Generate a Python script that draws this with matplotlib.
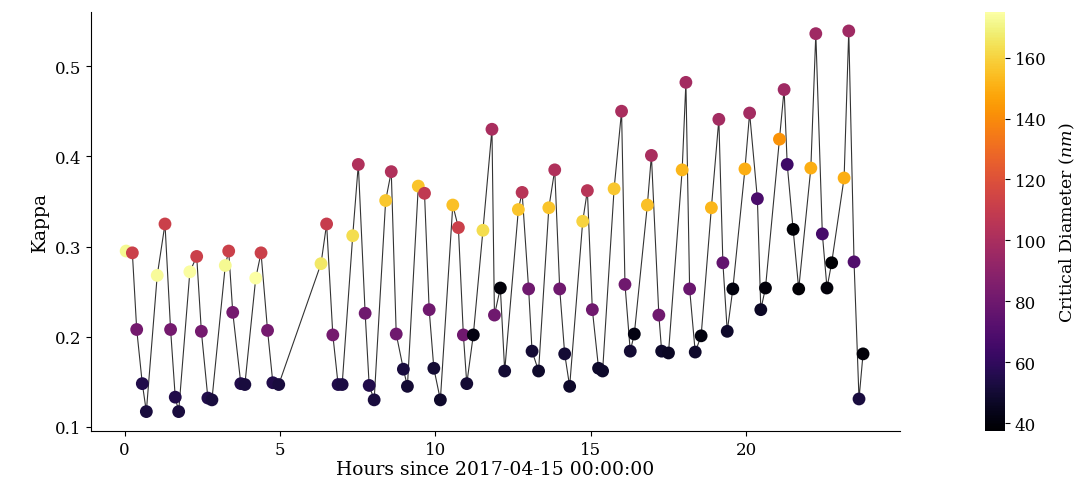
import numpy as np
import matplotlib
matplotlib.use('Agg')
import matplotlib.pyplot as plt

# hours since start, kappa, critical diameter (nm)
HOURS = [
    0.05, 0.25, 0.39, 0.57, 0.70,
    1.05, 1.30, 1.48, 1.63, 1.74,
    2.10, 2.32, 2.47, 2.68, 2.81,
    3.24, 3.35, 3.48, 3.74, 3.87,
    4.22, 4.39, 4.60, 4.77, 4.96,
    6.32, 6.50, 6.70, 6.87, 7.00,
    7.34, 7.52, 7.74, 7.87, 8.03,
    8.40, 8.58, 8.74, 8.97, 9.10,
    9.45, 9.65, 9.80, 9.95, 10.16,
    10.56, 10.74, 10.90, 11.01, 11.22,
    11.53, 11.82, 11.90, 12.09, 12.23,
    12.67, 12.79, 13.00, 13.11, 13.32,
    13.65, 13.84, 14.00, 14.16, 14.32,
    14.74, 14.89, 15.05, 15.25, 15.38,
    15.75, 15.99, 16.10, 16.27, 16.40,
    16.82, 16.95, 17.19, 17.28, 17.50,
    17.94, 18.06, 18.18, 18.36, 18.55,
    18.88, 19.12, 19.25, 19.39, 19.57,
    19.96, 20.11, 20.36, 20.47, 20.62,
    21.07, 21.22, 21.32, 21.51, 21.69,
    22.08, 22.24, 22.45, 22.60, 22.75,
    23.15, 23.30, 23.47, 23.63, 23.76,
]
KAPPA = [
    0.295, 0.293, 0.208, 0.148, 0.117,
    0.268, 0.325, 0.208, 0.133, 0.117,
    0.272, 0.289, 0.206, 0.132, 0.130,
    0.279, 0.295, 0.227, 0.148, 0.147,
    0.265, 0.293, 0.207, 0.149, 0.147,
    0.281, 0.325, 0.202, 0.147, 0.147,
    0.312, 0.391, 0.226, 0.146, 0.130,
    0.351, 0.383, 0.203, 0.164, 0.145,
    0.367, 0.359, 0.230, 0.165, 0.130,
    0.346, 0.321, 0.202, 0.148, 0.202,
    0.318, 0.430, 0.224, 0.254, 0.162,
    0.341, 0.360, 0.253, 0.184, 0.162,
    0.343, 0.385, 0.253, 0.181, 0.145,
    0.328, 0.362, 0.230, 0.165, 0.162,
    0.364, 0.450, 0.258, 0.184, 0.203,
    0.346, 0.401, 0.224, 0.184, 0.182,
    0.385, 0.482, 0.253, 0.183, 0.201,
    0.343, 0.441, 0.282, 0.206, 0.253,
    0.386, 0.448, 0.353, 0.230, 0.254,
    0.419, 0.474, 0.391, 0.319, 0.253,
    0.387, 0.536, 0.314, 0.254, 0.282,
    0.376, 0.539, 0.283, 0.131, 0.181,
]
DIAMETER = [
    172, 112, 82, 55, 52,
    173, 112, 82, 55, 52,
    174, 112, 82, 55, 52,
    172, 112, 82, 55, 52,
    175, 112, 82, 55, 52,
    166, 110, 82, 55, 53,
    163, 102, 80, 55, 52,
    157, 102, 80, 52, 50,
    156, 108, 80, 50, 48,
    155, 112, 80, 50, 42,
    163, 100, 80, 40, 50,
    156, 105, 80, 50, 48,
    156, 102, 80, 50, 48,
    160, 105, 80, 48, 48,
    157, 100, 80, 50, 42,
    155, 100, 80, 48, 46,
    152, 98, 78, 48, 41,
    152, 98, 76, 48, 41,
    150, 98, 68, 46, 40,
    142, 96, 64, 39, 38,
    150, 96, 66, 40, 37.4,
    150, 96, 70, 52, 40,
]

plt.rcParams['font.family'] = 'DejaVu Serif'
plt.rcParams['mathtext.fontset'] = 'dejavuserif'
plt.rcParams['font.size'] = 12

fig = plt.figure(figsize=(10.81, 4.85), dpi=100)
ax = fig.add_axes([0.0842, 0.1093, 0.7484, 0.8639])
cax = fig.add_axes([0.9112, 0.1093, 0.0185, 0.8639])

ax.plot(HOURS, KAPPA, color='black', lw=0.8, alpha=0.8, zorder=1)
sc = ax.scatter(HOURS, KAPPA, c=DIAMETER, cmap='inferno', s=85,
                edgecolors='none', vmin=37.4, vmax=175, zorder=2)

ax.set_xlim(-1.08, 24.95)
ax.set_ylim(0.0955, 0.560)
ax.set_xticks([0, 5, 10, 15, 20])
ax.set_yticks([0.1, 0.2, 0.3, 0.4, 0.5])
ax.set_xlabel('Hours since 2017-04-15 00:00:00', fontsize=13.5, labelpad=2)
ax.set_ylabel('Kappa', fontsize=13.5)
ax.spines['top'].set_visible(False)
ax.spines['right'].set_visible(False)

cb = fig.colorbar(sc, cax=cax)
cb.outline.set_visible(False)
cb.set_label('Critical Diameter ($nm$)', fontsize=12.5, labelpad=8)
cb.set_ticks([40, 60, 80, 100, 120, 140, 160])

fig.savefig('out.png', dpi=100)
